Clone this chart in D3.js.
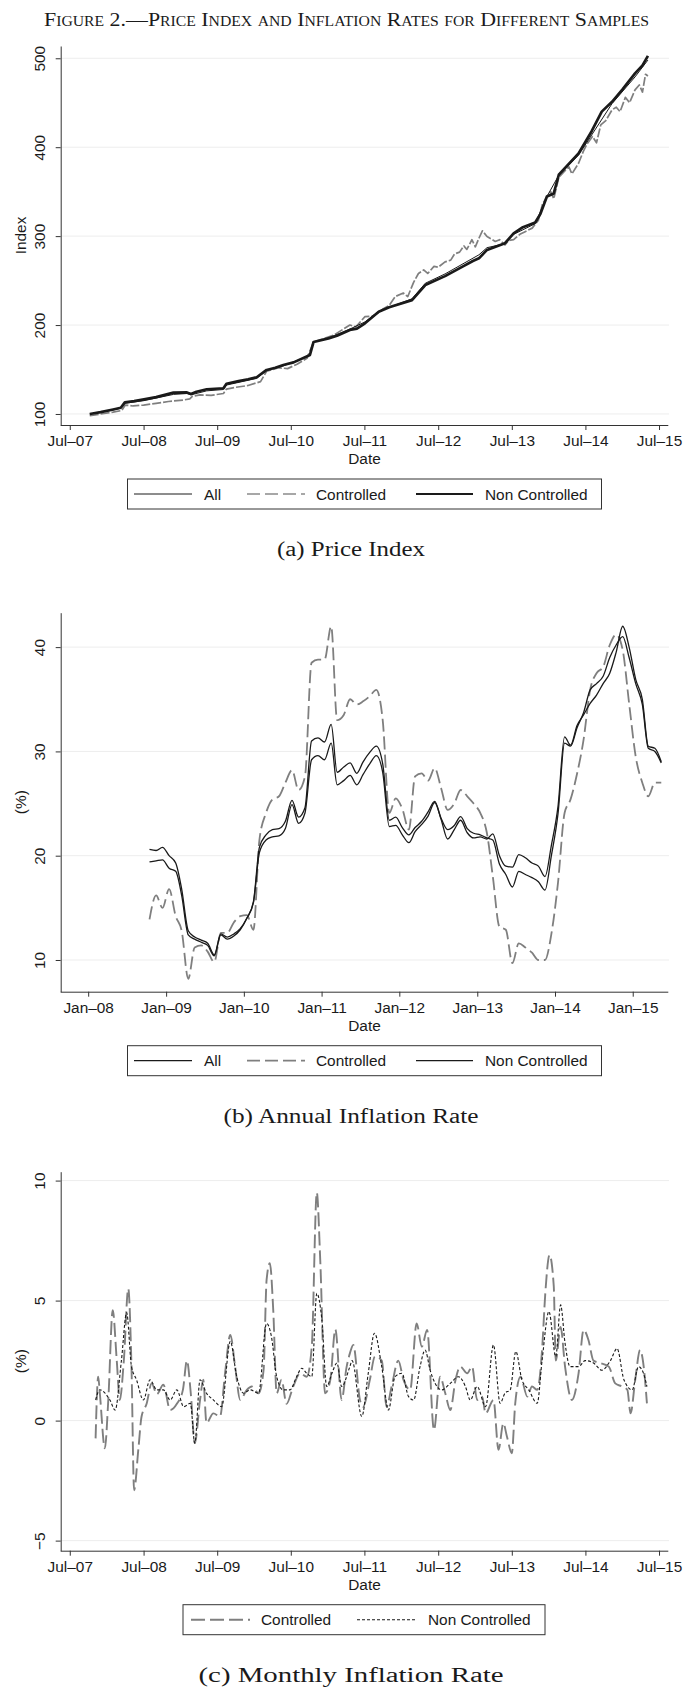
<!DOCTYPE html>
<html>
<head>
<meta charset="utf-8">
<script src="https://d3js.org/d3.v7.min.js"></script>
<style>
  body { margin: 0; background: #fff; }
  svg text { fill: #1a1a1a; }
  .sans { font-family: "Liberation Sans", Arial, sans-serif; font-size: 15.4px; }
  .serif { font-family: "Liberation Serif", "Times New Roman", serif; }
  .axis path, .axis line { stroke: #333; }
</style>
</head>
<body>
<script>
// ---- data ----

// (a) price index, [date, index]
const priceAll = [
  ["2007-10-08",100],["2008-02-01",104.5],["2008-03-10",106.5],["2008-03-30",112],["2008-07-03",115],
  ["2008-11-26",122],["2009-02-01",123],["2009-02-21",121.5],["2009-05-10",126],["2009-08-01",127.5],
  ["2009-08-16",132.5],["2010-01-13",140],["2010-03-03",149],["2010-05-25",154],["2010-10-04",166],
  ["2010-10-22",181],["2011-01-04",185.5],["2011-04-20",195.5],["2011-07-04",203.5],["2011-09-10",215.5],
  ["2012-02-22",229.5],["2012-04-28",247],["2012-08-04",257.5],["2013-01-19",279],["2013-02-28",287],
  ["2013-05-28",291.5],["2013-07-10",302],["2013-10-25",314],["2013-12-22",344.5],["2014-02-19",368.5],
  ["2014-05-28",391],["2014-11-10",449],["2015-03-04",479],["2015-05-07",498]
];

const priceControlled = [
  ["2007-10-08",98],["2007-12-01",100],["2008-02-01",102],["2008-03-15",104],["2008-04-01",110],
  ["2008-05-10",109],["2008-07-01",110],["2008-09-01",112],["2008-11-01",114],["2009-01-16",115.7],
  ["2009-02-15",117],["2009-03-01",120],["2009-04-07",121.4],["2009-06-01",121],["2009-08-01",123],
  ["2009-08-16",128],["2009-10-01",130],["2009-12-01",132],["2010-02-01",136.4],["2010-03-03",148],
  ["2010-05-01",152],["2010-06-15",151],["2010-08-01",156],["2010-09-19",162.6],["2010-10-22",181],
  ["2010-12-01",184],["2011-02-01",189],["2011-04-20",200],["2011-05-20",198],["2011-07-04",209.5],
  ["2011-08-15",210],["2011-10-01",218],["2011-11-01",222],["2011-12-01",232],["2012-01-10",236],
  ["2012-02-01",232],["2012-03-01",248],["2012-03-25",258],["2012-04-20",262],["2012-05-10",258],
  ["2012-06-10",266],["2012-07-01",265],["2012-08-04",271],["2012-09-01",273],["2012-09-20",280],
  ["2012-10-15",282],["2012-11-05",289],["2012-11-20",285],["2012-12-15",296],["2013-01-01",288],
  ["2013-01-19",297.6],["2013-02-05",306],["2013-02-28",299.5],["2013-03-20",297],["2013-04-10",294],
  ["2013-05-01",296],["2013-05-28",290],["2013-06-15",295],["2013-07-10",296],["2013-08-10",302],
  ["2013-09-05",305],["2013-10-10",309],["2013-11-10",318],["2013-11-30",336],["2013-12-22",344],
  ["2014-01-10",350],["2014-01-25",342],["2014-02-19",366],["2014-03-15",372],["2014-04-10",378],
  ["2014-04-25",370],["2014-05-28",382],["2014-06-20",395],["2014-07-10",404],["2014-08-05",412],
  ["2014-08-25",405],["2014-09-15",425],["2014-10-10",430],["2014-11-10",442],["2014-12-01",445],
  ["2014-12-20",440],["2015-01-15",456],["2015-02-05",450],["2015-03-04",464.5],["2015-03-25",470],
  ["2015-04-10",462],["2015-04-25",482],["2015-05-07",480]
];

const priceNonControlled = [
  ["2007-10-08",100],["2007-12-01",102],["2008-02-01",105],["2008-03-10",107],["2008-03-30",113],
  ["2008-05-15",114.5],["2008-07-03",116.5],["2008-09-01",119],["2008-11-26",124],["2009-02-01",124.2],
  ["2009-02-21",122.5],["2009-03-20",125],["2009-05-10",127.8],["2009-08-01",128.9],["2009-08-16",134],
  ["2009-10-15",137],["2009-12-01",139],["2010-01-13",141.3],["2010-03-03",149.5],["2010-04-15",152],
  ["2010-05-25",155],["2010-07-15",158],["2010-10-04",166.4],["2010-10-22",181],["2011-01-04",185],
  ["2011-02-15",188],["2011-04-20",194.5],["2011-05-25",196],["2011-07-04",202],["2011-09-10",215],
  ["2011-11-01",220],["2012-02-22",228],["2012-04-28",245],["2012-08-04",255],["2012-11-01",266],
  ["2012-12-20",272],["2013-01-19",275],["2013-02-28",284.5],["2013-05-28",292],["2013-07-10",303],
  ["2013-08-25",310],["2013-10-25",315.3],["2013-11-20",325],["2013-12-22",344.5],["2014-01-25",348],
  ["2014-02-19",369],["2014-05-28",393],["2014-08-01",418],["2014-09-20",440],["2014-11-10",451],
  ["2015-01-01",465],["2015-03-04",483],["2015-04-10",492],["2015-05-07",502.7]
];

// (b) annual inflation, monthly (%)
const annualMonths = [
  "2008-10","2008-11","2008-12","2009-01","2009-02","2009-03","2009-04","2009-05","2009-06","2009-07",
  "2009-08","2009-09","2009-10","2009-11","2009-12","2010-01","2010-02","2010-03","2010-04","2010-05",
  "2010-06","2010-07","2010-08","2010-09","2010-10","2010-11","2010-12","2011-01","2011-02","2011-03",
  "2011-04","2011-05","2011-06","2011-07","2011-08","2011-09","2011-10","2011-11","2011-12","2012-01",
  "2012-02","2012-03","2012-04","2012-05","2012-06","2012-07","2012-08","2012-09","2012-10","2012-11",
  "2012-12","2013-01","2013-02","2013-03","2013-04","2013-05","2013-06","2013-07","2013-08","2013-09",
  "2013-10","2013-11","2013-12","2014-01","2014-02","2014-03","2014-04","2014-05","2014-06","2014-07",
  "2014-08","2014-09","2014-10","2014-11","2014-12","2015-01","2015-02","2015-03","2015-04","2015-05"
];
const annualAll = [
  19.4,19.5,19.6,18.8,18.5,16.2,12.4,12.0,11.7,11.4,
  10.4,12.4,12.0,12.3,12.9,14.0,15.6,20.8,22.0,22.5,
  22.6,23.3,25.3,23.7,24.6,31.0,31.3,30.9,32.6,28.0,
  28.5,28.9,27.9,29.0,29.9,30.5,28.8,23.4,23.7,22.7,
  22.0,22.7,23.3,24.2,25.2,23.6,22.5,22.9,23.75,22.6,
  22.15,22.0,21.7,21.5,19.2,18.2,17.0,18.5,18.2,17.9,
  17.5,16.7,20.0,24.0,30.8,30.5,32.3,33.7,35.9,36.5,
  37.2,39.0,40.2,41.0,39.0,36.5,34.5,30.3,30.0,28.9
];
const annualControlled = [
  13.9,16.2,15.0,16.8,14.2,12.8,8.2,11.2,11.4,10.8,
  9.8,12.6,12.6,13.6,14.2,14.3,12.9,21.5,24.1,25.4,
  25.7,27.0,28.2,26.3,27.6,38.5,38.8,38.8,42.0,33.0,
  33.5,35.0,34.5,34.8,35.3,35.9,33.0,24.1,25.5,24.5,
  22.5,27.6,27.9,27.2,28.4,26.5,24.4,25.0,26.3,25.7,
  25.0,24.1,22.2,18.0,13.2,12.9,9.7,11.6,11.2,10.7,
  10.0,10.0,12.5,17.4,24.1,25.4,27.9,31.1,35.9,37.5,
  38.1,40.2,41.2,39.7,34.6,29.5,27.0,25.7,27.0,27.0
];
const annualNonControlled = [
  20.6,20.5,20.8,20.0,19.3,16.8,12.8,12.2,11.9,11.6,
  10.5,12.5,12.2,12.5,13.0,14.0,15.5,20.3,21.5,21.8,
  21.9,22.6,24.9,23.1,24.1,29.2,29.6,29.2,30.8,26.8,
  27.2,27.7,26.8,27.8,28.8,29.6,28.0,22.8,22.9,22.0,
  21.25,22.3,23.0,23.8,25.1,23.5,21.6,22.5,23.4,22.2,
  21.7,21.8,21.6,22.1,20.0,19.0,18.9,20.1,19.8,19.3,
  19.0,18.0,21.0,24.7,31.4,30.6,32.5,33.5,34.6,35.4,
  36.5,37.5,39.5,42.0,40.0,36.9,35.0,30.5,30.3,29.0
];

// (c) monthly inflation, [date, %]
const monthlyControlled = [
  ["2007-11-06",-0.74],["2007-11-19",1.83],["2007-11-27",1.14],["2007-12-22",-1.15],["2008-01-08",0.86],
  ["2008-01-30",4.6],["2008-02-19",2.5],["2008-03-05",0.86],["2008-03-25",2.5],["2008-04-16",5.5],
  ["2008-05-02",2.25],["2008-05-15",-2.9],["2008-06-05",-1.2],["2008-06-21",0.17],["2008-07-16",0.7],
  ["2008-08-10",1.55],["2008-09-05",1.1],["2008-10-07",1.5],["2008-11-10",0.44],["2008-12-13",0.7],
  ["2009-01-12",1.28],["2009-02-01",2.5],["2009-02-20",1.14],["2009-03-12",-0.94],["2009-04-07",0.86],
  ["2009-04-23",1.7],["2009-05-09",-0.1],["2009-06-12",0.3],["2009-07-15",0.17],["2009-08-09",1.97],
  ["2009-09-04",3.57],["2009-09-28",2.25],["2009-10-23",0.86],["2009-11-25",1.28],["2009-12-20",1.42],
  ["2010-01-22",1.14],["2010-02-16",2.1],["2010-03-03",5.86],["2010-03-19",6.56],["2010-04-05",4.6],
  ["2010-04-22",1.14],["2010-05-16",1.7],["2010-06-10",0.7],["2010-07-13",1.42],["2010-08-16",1.97],
  ["2010-09-18",1.83],["2010-10-13",3.08],["2010-11-07",9.5],["2010-11-24",6.7],["2010-12-18",1.14],
  ["2011-01-13",1.7],["2011-02-07",3.8],["2011-03-10",0.86],["2011-04-04",2.25],["2011-04-20",2.8],
  ["2011-05-07",3.15],["2011-06-09",0.86],["2011-06-25",0.58],["2011-07-28",1.7],["2011-08-22",2.67],
  ["2011-09-25",2.5],["2011-10-19",0.58],["2011-11-13",1.42],["2011-12-16",2.5],["2012-01-11",1.7],
  ["2012-02-13",1.28],["2012-03-16",4.05],["2012-04-11",3.08],["2012-05-07",3.78],["2012-06-10",-0.39],
  ["2012-07-10",1.83],["2012-08-05",1.14],["2012-08-30",0.44],["2012-09-25",1.7],["2012-10-19",2.25],
  ["2012-11-22",1.97],["2012-12-16",2.25],["2013-01-10",0.86],["2013-02-04",1.0],["2013-02-21",0.3],
  ["2013-04-01",0.86],["2013-04-26",-1.22],["2013-05-20",-0.11],["2013-06-07",-0.67],["2013-07-01",-1.36],
  ["2013-07-18",0.72],["2013-08-13",1.83],["2013-09-16",1.0],["2013-10-09",1.42],["2013-11-04",1.28],
  ["2013-11-28",2.94],["2013-12-14",5.3],["2014-01-04",6.9],["2014-01-25",5.6],["2014-02-04",2.5],
  ["2014-02-28",3.9],["2014-03-22",2.25],["2014-04-25",0.86],["2014-05-28",1.97],["2014-06-22",3.78],
  ["2014-07-16",3.36],["2014-08-10",2.5],["2014-09-13",2.4],["2014-10-25",2.25],["2014-11-26",1.55],
  ["2014-12-30",1.42],["2015-01-25",1.28],["2015-02-10",0.3],["2015-03-05",1.7],["2015-03-29",2.94],
  ["2015-04-16",2.25],["2015-05-02",0.72]
];

const monthlyNonControlled = [
  ["2007-11-06",0.86],["2007-11-27",1.28],["2008-01-16",0.86],["2008-02-11",0.44],["2008-03-13",2.5],
  ["2008-04-08",4.5],["2008-05-02",2.25],["2008-05-27",1.7],["2008-06-30",0.86],["2008-08-02",1.7],
  ["2008-09-05",1.28],["2008-10-07",1.28],["2008-11-10",0.86],["2008-12-13",1.28],["2009-01-16",0.58],
  ["2009-02-18",0.72],["2009-03-12",-0.94],["2009-04-07",1.7],["2009-05-09",1.14],["2009-06-12",0.86],
  ["2009-07-23",0.58],["2009-09-04",3.3],["2009-10-06",1.83],["2009-11-09",1.14],["2009-12-12",1.28],
  ["2010-01-22",1.14],["2010-03-03",4.05],["2010-03-27",3.5],["2010-04-22",1.83],["2010-05-24",1.28],
  ["2010-06-27",1.28],["2010-07-30",1.83],["2010-08-24",2.18],["2010-09-18",1.97],["2010-10-13",1.83],
  ["2010-11-07",5.3],["2010-12-02",4.2],["2010-12-26",1.42],["2011-01-21",1.97],["2011-02-15",2.4],
  ["2011-03-10",1.42],["2011-04-20",2.25],["2011-05-01",2.5],["2011-06-18",0.17],["2011-07-20",1.97],
  ["2011-08-20",3.64],["2011-09-25",2.25],["2011-10-28",0.44],["2011-11-30",1.83],["2012-01-03",1.97],
  ["2012-02-05",1.0],["2012-03-01",0.86],["2012-04-02",2.25],["2012-04-27",2.94],["2012-05-22",2.1],
  ["2012-06-16",1.55],["2012-07-19",1.28],["2012-08-30",1.55],["2012-10-10",1.83],["2012-11-13",1.42],
  ["2012-12-07",0.86],["2013-01-10",1.42],["2013-02-21",0.58],["2013-04-01",3.15],["2013-05-04",0.72],
  ["2013-05-28",1.14],["2013-06-23",1.28],["2013-07-21",2.88],["2013-08-20",1.7],["2013-09-23",1.28],
  ["2013-11-04",0.72],["2013-11-28",2.5],["2014-01-01",4.54],["2014-02-04",2.67],["2014-02-28",4.82],
  ["2014-03-22",3.22],["2014-04-16",2.25],["2014-05-28",2.25],["2014-06-30",2.5],["2014-08-10",2.4],
  ["2014-09-21",2.1],["2014-11-02",2.5],["2014-12-05",3.0],["2015-01-08",1.7],["2015-02-18",1.28],
  ["2015-03-21",2.25],["2015-04-15",1.97],["2015-05-02",1.42]
];

// axis ticks
const julyTicks = ["2007-07-01","2008-07-01","2009-07-01","2010-07-01","2011-07-01",
                   "2012-07-01","2013-07-01","2014-07-01","2015-07-01"];
const janTicks = ["2008-01-01","2009-01-01","2010-01-01","2011-01-01",
                  "2012-01-01","2013-01-01","2014-01-01","2015-01-01"];
const indexTicks = [100, 200, 300, 400, 500];
const annualTicks = [10, 20, 30, 40];
const monthlyTicks = [-5, 0, 5, 10];

// ---- drawing ----
const parseDay = d3.timeParse("%Y-%m-%d");
const parseMonth = d3.timeParse("%Y-%m");
const W = 695, H = 1692;
const left = 60.7, right = 668.3;

const svg = d3.select("body").append("svg")
    .attr("width", W)
    .attr("height", H);

svg.append("text")
    .attr("class", "serif")
    .attr("x", 44).attr("y", 26)
    .attr("textLength", 605)
    .attr("lengthAdjust", "spacingAndGlyphs")
    .style("font-size", "19.5px")
    .style("font-variant", "small-caps")
    .text("Figure 2.—Price Index and Inflation Rates for Different Samples");

const pairs = arr => arr.map(d => ({date: parseDay(d[0]), value: d[1]}));

function drawPanel(p) {
  const x = d3.scaleTime().domain(p.xDomain.map(parseDay)).range([left, right]);
  const y = d3.scaleLinear().domain(p.yDomain).range([p.bottom, p.top]);
  const g = svg.append("g");

  // gridlines
  g.append("g").selectAll("line")
    .data(p.yTicks)
    .join("line")
      .attr("x1", left + 0.5).attr("x2", right + 0.7)
      .attr("y1", d => y(d)).attr("y2", d => y(d))
      .attr("stroke", "#ededed");

  // series
  const line = d3.line()
      .curve(p.curve || d3.curveLinear)
      .x(d => x(d.date))
      .y(d => y(d.value));

  p.series.forEach(s => {
    g.append("path")
      .datum(s.data)
      .attr("fill", "none")
      .attr("stroke", s.color)
      .attr("stroke-width", s.width)
      .attr("stroke-dasharray", s.dash || null)
      .attr("stroke-linejoin", "round")
      .attr("d", line);
  });

  // y axis
  const ya = g.append("g")
      .attr("class", "axis")
      .attr("transform", `translate(${left},0)`)
      .call(d3.axisLeft(y).tickValues(p.yTicks).tickSize(5).tickSizeOuter(0));
  ya.selectAll(".tick text")
      .attr("class", "sans")
      .attr("x", null).attr("dy", null)
      .attr("text-anchor", "middle")
      .attr("transform", "translate(-16,0) rotate(-90)");
  ya.selectAll("text").attr("fill", null);

  // x axis
  const xa = g.append("g")
      .attr("class", "axis")
      .attr("transform", `translate(0,${p.bottom})`)
      .call(d3.axisBottom(x)
        .tickValues(p.xTicks.map(parseDay))
        .tickFormat(d3.timeFormat("%b\u2013%y"))
        .tickSize(5).tickPadding(5.5).tickSizeOuter(0));
  xa.selectAll(".tick text").attr("class", "sans").attr("fill", null);
  xa.select(".domain").attr("d", `M${left},0.5H${right}`);

  // axis titles
  g.append("text")
      .attr("class", "sans")
      .attr("x", (left + right) / 2).attr("y", p.bottom + 39)
      .attr("text-anchor", "middle")
      .text("Date");
  g.append("text")
      .attr("class", "sans")
      .attr("text-anchor", "middle")
      .attr("transform", `translate(26,${(p.top + p.bottom) / 2}) rotate(-90)`)
      .text(p.yTitle);

  // legend
  const ly = p.bottom + 54;
  g.append("rect")
      .attr("x", p.legendBox[0]).attr("y", ly)
      .attr("width", p.legendBox[1] - p.legendBox[0]).attr("height", 30)
      .attr("fill", "none").attr("stroke", "#333");
  p.legend.forEach(l => {
    g.append("line")
        .attr("x1", l.x1).attr("x2", l.x2)
        .attr("y1", ly + 15).attr("y2", ly + 15)
        .attr("stroke", l.s.color)
        .attr("stroke-width", Math.min(l.s.width, 2.4))
        .attr("stroke-dasharray", l.s.dash || null);
    g.append("text")
        .attr("class", "sans")
        .attr("x", l.tx).attr("y", ly + 20.5)
        .text(l.label);
  });

  // caption
  g.append("text")
      .attr("class", "serif")
      .attr("x", 351).attr("y", p.bottom + 131)
      .attr("text-anchor", "middle")
      .attr("textLength", p.captionWidth)
      .attr("lengthAdjust", "spacingAndGlyphs")
      .style("font-size", "20px")
      .text(p.caption);
}

// (a)
const aAll = {data: pairs(priceAll), color: "#1a1a1a", width: 1};
const aCon = {data: pairs(priceControlled), color: "#7f7f7f", width: 1.7, dash: "9,2"};
const aNon = {data: pairs(priceNonControlled), color: "#1a1a1a", width: 2.7};
drawPanel({
  top: 46, bottom: 425,
  xDomain: ["2007-05-17", "2015-08-16"], yDomain: [87.6, 513.8],
  xTicks: julyTicks, yTicks: indexTicks, yTitle: "Index",
  series: [aCon, aAll, aNon],
  legendBox: [127.5, 601.5],
  legend: [
    {label: "All", s: aAll, x1: 134, x2: 192, tx: 204},
    {label: "Controlled", s: {color: "#8a8a8a", width: 1.7, dash: "13,5"}, x1: 247, x2: 305, tx: 316},
    {label: "Non Controlled", s: {color: "#1a1a1a", width: 2}, x1: 416, x2: 473, tx: 485}
  ],
  caption: "(a) Price Index", captionWidth: 148
});

// (b)
const bRows = s => annualMonths.map((m, i) => ({date: d3.timeDay.offset(parseMonth(m), 14), value: s[i]}));
const bAll = {data: bRows(annualAll), color: "#1a1a1a", width: 1.3};
const bCon = {data: bRows(annualControlled), color: "#7f7f7f", width: 1.8, dash: "13,5"};
const bNon = {data: bRows(annualNonControlled), color: "#1a1a1a", width: 1.3};
drawPanel({
  top: 612.7, bottom: 991.7,
  xDomain: ["2007-08-25", "2015-06-17"], yDomain: [6.96, 43.3],
  xTicks: janTicks, yTicks: annualTicks, yTitle: "(%)",
  series: [bCon, bAll, bNon], curve: d3.curveMonotoneX,
  legendBox: [127.5, 601.5],
  legend: [
    {label: "All", s: bAll, x1: 134, x2: 192, tx: 204},
    {label: "Controlled", s: bCon, x1: 247, x2: 305, tx: 316},
    {label: "Non Controlled", s: bNon, x1: 416, x2: 473, tx: 485}
  ],
  caption: "(b) Annual Inflation Rate", captionWidth: 255
});

// (c)
const cCon = {data: pairs(monthlyControlled), color: "#7f7f7f", width: 1.9, dash: "14,5"};
const cNon = {data: pairs(monthlyNonControlled), color: "#1a1a1a", width: 1.1, dash: "3,2"};
drawPanel({
  top: 1171.7, bottom: 1550.7,
  xDomain: ["2007-05-17", "2015-08-16"], yDomain: [-5.42, 10.37],
  xTicks: julyTicks, yTicks: monthlyTicks, yTitle: "(%)",
  series: [cCon, cNon], curve: d3.curveMonotoneX,
  legendBox: [183, 545],
  legend: [
    {label: "Controlled", s: cCon, x1: 191, x2: 250, tx: 261},
    {label: "Non Controlled", s: cNon, x1: 357, x2: 417, tx: 428}
  ],
  caption: "(c) Monthly Inflation Rate", captionWidth: 305
});
</script>
</body>
</html>
